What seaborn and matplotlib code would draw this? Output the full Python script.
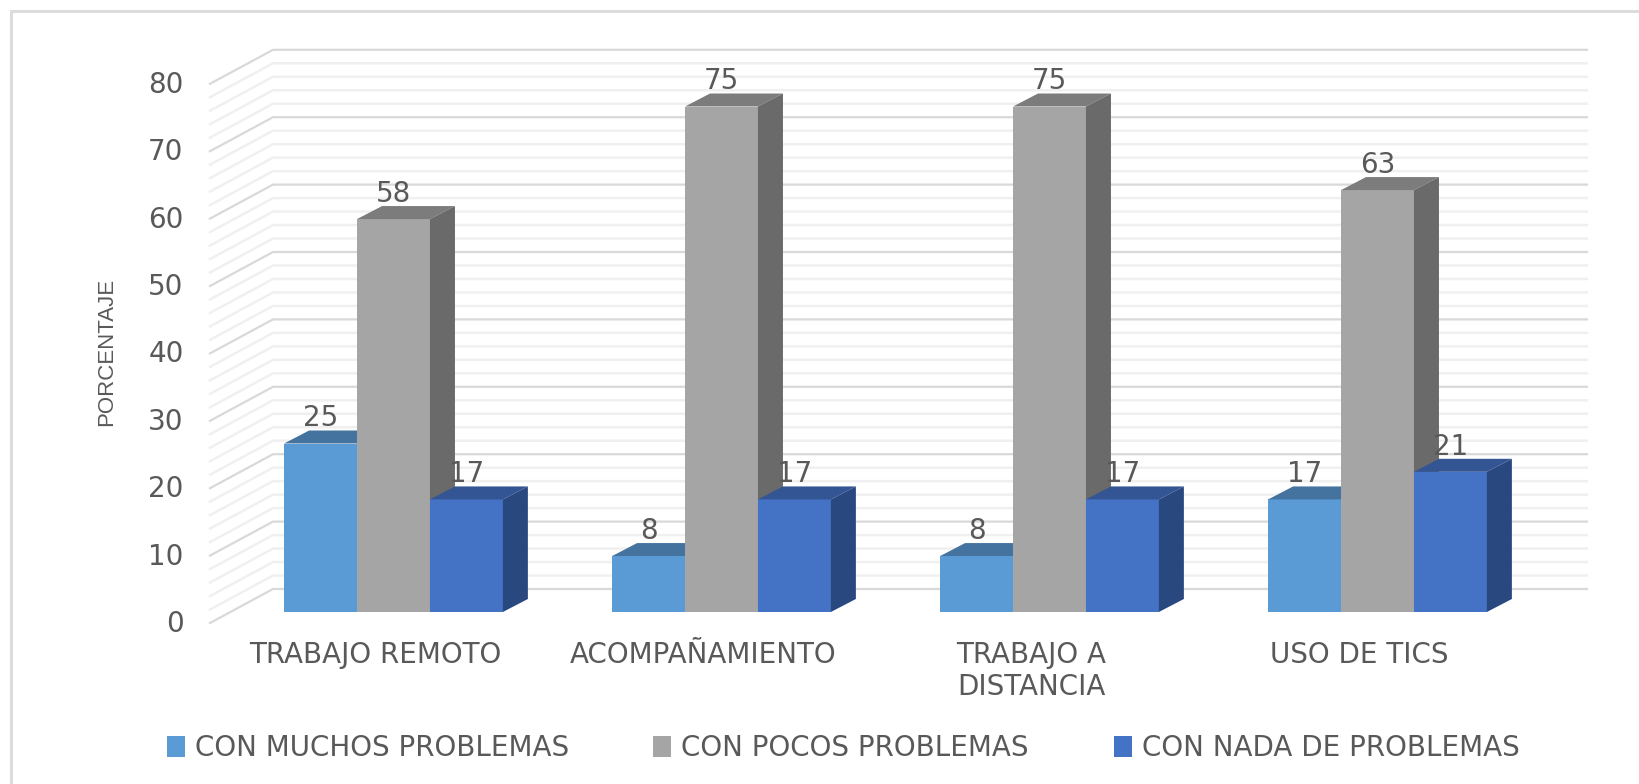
import pandas as pd
import matplotlib
matplotlib.use('Agg')
import matplotlib.pyplot as plt
from matplotlib.patches import Polygon, Rectangle
import seaborn as sns

categorias = ['TRABAJO REMOTO', 'ACOMPAÑAMIENTO', 'TRABAJO A\nDISTANCIA', 'USO DE TICS']
series = ['CON MUCHOS PROBLEMAS', 'CON POCOS PROBLEMAS', 'CON NADA DE PROBLEMAS']
muchos = [25, 8.3, 8.3, 16.7]
pocos = [58.3, 75, 75, 62.6]
nada = [16.7, 16.7, 16.7, 20.8]
ticks = [0, 10, 20, 30, 40, 50, 60, 70, 80]
menores = list(range(0, 81, 2))

colores = ['#5B9BD5', '#A5A5A5', '#4472C4']
colores_techo = ['#44739F', '#7C7C7C', '#335593']
colores_lado = ['#3F6A93', '#6A6A6A', '#2A4880']
TEXTO = '#595959'

plt.rcParams['font.family'] = ['DejaVu Sans']

# tidy table for seaborn
df = pd.DataFrame({
    'categoria': categorias * 3,
    'serie': [s for s in series for _ in categorias],
    'porcentaje': muchos + pocos + nada,
})

W, H = 1639, 784
fig = plt.figure(figsize=(W / 100, H / 100), dpi=100)
fig.patch.set_facecolor('white')

# outer chart frame
fig.add_artist(Rectangle((11 / W, -0.1), 1.2, 1.1 - 11 / H, transform=fig.transFigure,
                         fill=False, edgecolor='#DCDCDC', linewidth=2.2))

# axes placed so the bars' front plane lines up with the reference
IZQ, DER, ARR, ABA = 210, 1587, 50, 623
ax = fig.add_axes([IZQ / W, 1 - ABA / H, (DER - IZQ) / W, (ABA - ARR) / H])

PX_Y = 6.74   # pixels per percent
PX_X = 328    # pixels per category
ax.patch.set_visible(False)

sns.barplot(data=df, x='categoria', y='porcentaje', hue='serie', hue_order=series,
            palette=colores, saturation=1, width=0.667, gap=0, ax=ax)

ax.set_xlim((IZQ - 393.5) / PX_X, (DER - 393.5) / PX_X)
ax.set_ylim((612 - ABA) / PX_Y, (612 - ARR) / PX_Y)

# floor / walls: lower-left front to back
caida = 11 / PX_Y
subida = 23 / PX_Y
x_ini, x_fin = ax.get_xlim()
x_fondo = x_ini + 63 / PX_X
for v in menores:
    mayor = v in ticks
    c = '#D9D9D9' if mayor else '#F0F0F0'
    lw = 1.6 if mayor else 1.8
    ax.plot([x_ini, x_fondo, x_fin], [v - caida, v + subida, v + subida], color=c, lw=lw,
            zorder=1 if mayor else 0.5, clip_on=False, solid_joinstyle='miter')

# fake 3d: top and side of each bar
dx = 25 / PX_X
dy = 13 / PX_Y
for i, cont in enumerate(ax.containers):
    z = 3 + i
    for bar in cont:
        bar.set_zorder(z)
        x0 = bar.get_x()
        x1 = x0 + bar.get_width()
        y1 = bar.get_height()
        ax.add_patch(Polygon([(x0, y1), (x1, y1), (x1 + dx, y1 + dy), (x0 + dx, y1 + dy)],
                             facecolor=colores_techo[i], edgecolor='none', zorder=z))
        ax.add_patch(Polygon([(x1, 0), (x1 + dx, dy), (x1 + dx, y1 + dy), (x1, y1)],
                             facecolor=colores_lado[i], edgecolor='none', zorder=z))
    labs = ax.bar_label(cont, fmt='%.0f', padding=8, fontsize=20, color=TEXTO)
    for t in labs:
        t.set_zorder(10)

for s in ax.spines.values():
    s.set_visible(False)
ax.set_yticks([t - caida + 2 / PX_Y for t in ticks], [str(t) for t in ticks])
ax.set_xticks([i - 18 / PX_X for i in range(len(categorias))], categorias)
ax.tick_params(axis='y', length=0, pad=19, labelsize=20, labelcolor=TEXTO)
ax.tick_params(axis='x', length=0, pad=13, labelsize=20, labelcolor=TEXTO)
ax.set_xlabel('')
ax.set_ylabel('')
fig.text(107 / W, 1 - 352 / H, 'PORCENTAJE', rotation=90, ha='center', va='center',
         fontsize=16, color=TEXTO, family=['Liberation Sans'])

sns.move_legend(ax, 'center', bbox_to_anchor=(843 / W, 1 - 748 / H),
                bbox_transform=fig.transFigure, ncol=3, title=None, frameon=False,
                fontsize=20, labelcolor=TEXTO, handlelength=0.65, handleheight=0.8,
                handletextpad=0.36, columnspacing=3.05)

fig.savefig('out.png', dpi=100)
